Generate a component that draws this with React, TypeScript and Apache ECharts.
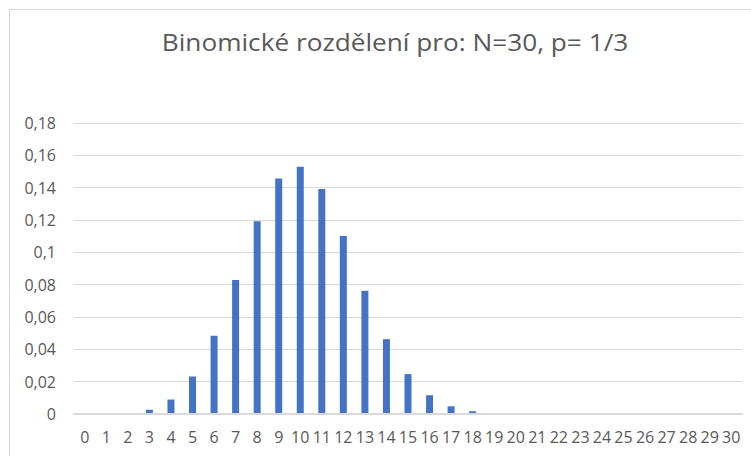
import React, { useEffect, useRef } from "react";
import * as echarts from "echarts";

const titleText = "Binomické rozdělení pro: N=30, p= 1/3";
const categories = Array.from({ length: 31 }, (_, i) => String(i));
const probabilities = [
  0.0000052, 0.0000782, 0.000567, 0.00265, 0.00893, 0.0232, 0.0484, 0.0829,
  0.1192, 0.1457, 0.1530, 0.1391, 0.1101, 0.0762, 0.0463, 0.0247, 0.0116,
  0.00476, 0.00172, 0.000543, 0.000149, 0.0000356, 0.0000073, 0.0000013,
  0.0000002, 0.00000002, 0, 0, 0, 0, 0,
];
const yMin = 0;
const yMax = 0.18;
const yStep = 0.02;

const FONT = "'Open Sans', Lato, sans-serif";
const TEXT = "#595959";

export default function App() {
  const ref = useRef<HTMLDivElement>(null);
  useEffect(() => {
    if (!ref.current) return;
    const chart = echarts.init(ref.current, undefined, { renderer: "svg" });
    chart.setOption({
      animation: false,
      backgroundColor: "#ffffff",
      graphic: [
        {
          type: "rect",
          shape: { x: 9.5, y: 9.5, width: 800, height: 500 },
          style: { fill: "none", stroke: "#d9d9d9", lineWidth: 1 },
          silent: true,
        },
        {
          type: "text",
          x: 395,
          y: 42,
          scaleX: 1.14,
          style: {
            text: titleText,
            x: 0,
            y: 0,
            align: "center",
            verticalAlign: "middle",
            fontFamily: FONT,
            fontWeight: 400,
            fontSize: 23,
            fill: TEXT,
          },
          silent: true,
        },
      ],
      grid: { left: 74, right: 9, top: 123, bottom: 42, containLabel: false },
      xAxis: {
        type: "category",
        data: categories,
        z: 3,
        axisLine: { show: true, lineStyle: { color: "#d9d9d9", width: 2 } },
        axisTick: { show: false },
        axisLabel: {
          interval: 0,
          margin: 15,
          fontFamily: FONT,
          fontSize: 16,
          color: TEXT,
        },
      },
      yAxis: {
        type: "value",
        min: yMin,
        max: yMax,
        interval: yStep,
        axisLine: { show: false },
        axisTick: { show: false },
        splitLine: { lineStyle: { color: "#d9d9d9", width: 1 } },
        axisLabel: {
          margin: 18,
          fontFamily: FONT,
          fontSize: 16,
          color: TEXT,
          formatter: (v: number) =>
            String(Math.round(v * 100) / 100).replace(".", ","),
        },
      },
      series: [
        {
          type: "bar",
          data: probabilities,
          barWidth: 7,
          itemStyle: { color: "#4472C4" },
        },
      ],
    });
    return () => chart.dispose();
  }, []);
  return (
    <div
      ref={ref}
      style={{ position: "fixed", left: 0, top: 0, width: 751, height: 456 }}
    />
  );
}
